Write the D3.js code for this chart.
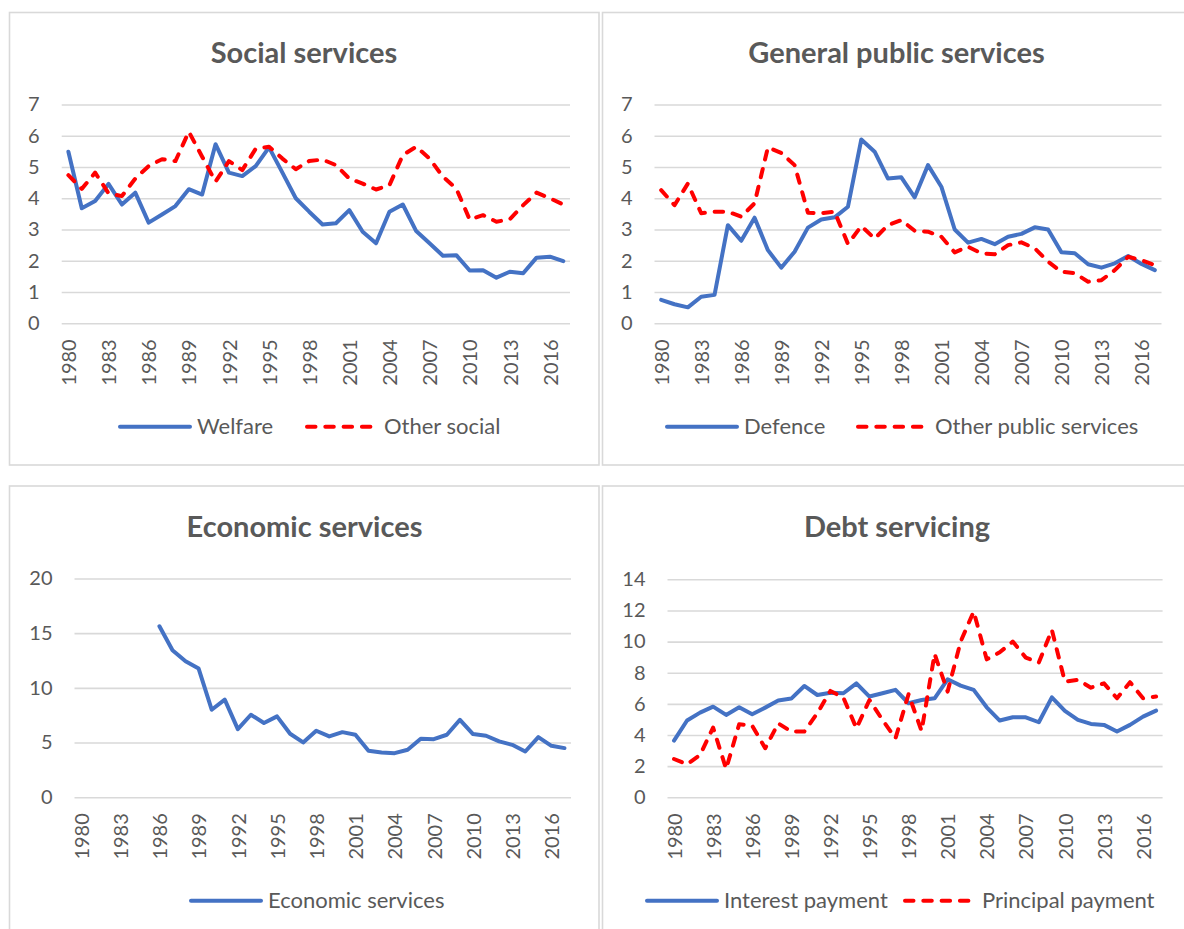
<!DOCTYPE html>
<html>
<head>
<meta charset="utf-8">
<script src="https://cdn.jsdelivr.net/npm/d3@7"></script>
<style>
  html, body { margin: 0; padding: 0; background: #ffffff; }
  svg { display: block; }
  text { font-family: Lato, "Open Sans", sans-serif; fill: #595959; }
</style>
</head>
<body>
<svg id="chart" width="1184" height="929"></svg>
<script>
// Fiscal years shown on every category axis
const years = [1980, 1981, 1982, 1983, 1984, 1985, 1986, 1987, 1988, 1989,
  1990, 1991, 1992, 1993, 1994, 1995, 1996, 1997, 1998, 1999,
  2000, 2001, 2002, 2003, 2004, 2005, 2006, 2007, 2008, 2009,
  2010, 2011, 2012, 2013, 2014, 2015, 2016, 2017];
const yearLabels = [1980, 1983, 1986, 1989, 1992, 1995, 1998, 2001, 2004, 2007, 2010, 2013, 2016];

// Social services
const welfare = [5.49, 3.68, 3.91, 4.46, 3.80, 4.18, 3.22, 3.48, 3.75, 4.29,
  4.12, 5.73, 4.82, 4.71, 5.03, 5.63, 4.82, 4.00, 3.57, 3.16,
  3.20, 3.62, 2.93, 2.56, 3.57, 3.80, 2.95, 2.56, 2.16, 2.18,
  1.69, 1.70, 1.46, 1.65, 1.60, 2.10, 2.13, 1.99];
const otherSocial = [4.74, 4.30, 4.82, 4.16, 4.07, 4.63, 5.03, 5.25, 5.19, 6.13,
  5.33, 4.53, 5.19, 4.90, 5.58, 5.65, 5.27, 4.93, 5.19, 5.24,
  5.06, 4.63, 4.47, 4.28, 4.42, 5.38, 5.65, 5.27, 4.69, 4.31,
  3.32, 3.46, 3.25, 3.33, 3.78, 4.18, 4.00, 3.80];

// General public services
const defence = [0.75, 0.61, 0.51, 0.85, 0.91, 3.14, 2.64, 3.38, 2.34, 1.78,
  2.29, 3.06, 3.32, 3.39, 3.73, 5.88, 5.49, 4.63, 4.67, 4.03,
  5.06, 4.37, 3.00, 2.58, 2.70, 2.53, 2.77, 2.86, 3.07, 3.00,
  2.27, 2.24, 1.89, 1.78, 1.92, 2.15, 1.90, 1.70];
const otherPublic = [4.26, 3.78, 4.47, 3.52, 3.57, 3.57, 3.41, 3.84, 5.63, 5.45,
  5.06, 3.54, 3.52, 3.57, 2.54, 3.11, 2.71, 3.14, 3.30, 2.96,
  2.93, 2.77, 2.27, 2.45, 2.24, 2.21, 2.50, 2.59, 2.40, 1.97,
  1.65, 1.60, 1.33, 1.38, 1.70, 2.13, 2.02, 1.86];

// Economic services (no figures before 1986)
const economic = [null, null, null, null, null, null, 15.63, 13.44, 12.43, 11.76,
  8.00, 8.92, 6.23, 7.54, 6.78, 7.39, 5.80, 5.01, 6.08, 5.56,
  5.95, 5.71, 4.24, 4.09, 4.03, 4.34, 5.34, 5.31, 5.71, 7.08,
  5.77, 5.62, 5.10, 4.79, 4.18, 5.50, 4.70, 4.49];

// Debt servicing
const interest = [3.64, 4.93, 5.44, 5.82, 5.29, 5.78, 5.33, 5.76, 6.21, 6.34,
  7.15, 6.57, 6.72, 6.68, 7.32, 6.47, 6.68, 6.90, 6.04, 6.25,
  6.36, 7.58, 7.17, 6.90, 5.78, 4.93, 5.14, 5.14, 4.82, 6.42,
  5.55, 4.97, 4.71, 4.65, 4.22, 4.65, 5.18, 5.57];
const principal = [2.46, 2.12, 2.72, 4.48, 1.82, 4.69, 4.60, 3.15, 4.75, 4.22,
  4.22, 5.40, 6.83, 6.40, 4.43, 6.25, 4.97, 3.79, 6.62, 4.26,
  9.21, 6.79, 10.00, 11.93, 8.86, 9.31, 10.00, 8.97, 8.65, 10.75,
  7.43, 7.54, 7.04, 7.32, 6.36, 7.39, 6.36, 6.47];

// Value-axis ticks per panel
const ticksSocial = [0, 1, 2, 3, 4, 5, 6, 7];
const ticksPublic = [0, 1, 2, 3, 4, 5, 6, 7];
const ticksEconomic = [0, 5, 10, 15, 20];
const ticksDebt = [0, 2, 4, 6, 8, 10, 12, 14];

const BLUE = "#4472C4";
const RED = "#FF0000";
const GRID = "#d9d9d9";

const panels = [
  {
    title: "Social services",
    box: { x: 9.5, y: 12.5, w: 589.5, h: 452.5 },
    plot: { left: 61.7, right: 570, top: 104.5, bottom: 323.3 },
    ticks: ticksSocial,
    titleX: 304, titleY: 62.7,
    legendY: 426.7, legendX: [120, 307],
    series: [
      { name: "Welfare", values: welfare, color: BLUE, dashed: false },
      { name: "Other social", values: otherSocial, color: RED, dashed: true }
    ]
  },
  {
    title: "General public services",
    box: { x: 602.5, y: 12.5, w: 600, h: 452.5 },
    plot: { left: 654.5, right: 1161.5, top: 104.5, bottom: 323.3 },
    ticks: ticksPublic,
    titleX: 896.5, titleY: 62.7,
    legendY: 426.7, legendX: [667, 858],
    series: [
      { name: "Defence", values: defence, color: BLUE, dashed: false },
      { name: "Other public services", values: otherPublic, color: RED, dashed: true }
    ]
  },
  {
    title: "Economic services",
    box: { x: 9.5, y: 486, w: 589.5, h: 500 },
    plot: { left: 74.5, right: 571, top: 578.5, bottom: 797.2 },
    ticks: ticksEconomic,
    titleX: 304.5, titleY: 536.7,
    legendY: 900.7, legendX: [191],
    series: [
      { name: "Economic services", values: economic, color: BLUE, dashed: false }
    ]
  },
  {
    title: "Debt servicing",
    box: { x: 602.5, y: 486, w: 600, h: 500 },
    plot: { left: 667.5, right: 1162.6, top: 579.3, bottom: 797.3 },
    ticks: ticksDebt,
    titleX: 897, titleY: 536.7,
    legendY: 900.7, legendX: [647, 905],
    series: [
      { name: "Interest payment", values: interest, color: BLUE, dashed: false },
      { name: "Principal payment", values: principal, color: RED, dashed: true }
    ]
  }
];

const svg = d3.select("#chart");
svg.append("rect").attr("width", 1184).attr("height", 929).attr("fill", "#ffffff");

const DASH = "8.5 9.8";

panels.forEach(p => {
  const g = svg.append("g");

  // chart frame
  g.append("rect")
    .attr("x", p.box.x).attr("y", p.box.y)
    .attr("width", p.box.w).attr("height", p.box.h)
    .attr("fill", "none").attr("stroke", GRID).attr("stroke-width", 1.6);

  // title
  g.append("text")
    .attr("x", p.titleX).attr("y", p.titleY)
    .attr("text-anchor", "middle")
    .style("font-size", "29px").style("font-weight", "bold")
    .text(p.title);

  const x = d3.scalePoint()
    .domain(years)
    .range([p.plot.left, p.plot.right])
    .padding(0.5);
  const y = d3.scaleLinear()
    .domain([d3.min(p.ticks), d3.max(p.ticks)])
    .range([p.plot.bottom, p.plot.top]);

  // value axis with horizontal gridlines
  const yAxis = g.append("g")
    .attr("transform", `translate(${p.plot.left},0)`)
    .call(d3.axisLeft(y)
      .tickValues(p.ticks)
      .tickFormat(d3.format("d"))
      .tickSize(-(p.plot.right - p.plot.left))
      .tickPadding(22));
  yAxis.select(".domain").remove();
  yAxis.selectAll(".tick line").attr("stroke", GRID).attr("stroke-width", 1.6);
  yAxis.selectAll(".tick text")
    .attr("fill", "#595959")
    .style("font-family", "Lato, sans-serif")
    .style("font-size", "20px");

  // category axis with rotated year labels
  const xAxis = g.append("g")
    .attr("transform", `translate(0,${p.plot.bottom})`)
    .call(d3.axisBottom(x).tickValues(yearLabels).tickSize(0).tickPadding(0));
  xAxis.select(".domain").remove();
  xAxis.selectAll(".tick text")
    .attr("fill", "#595959")
    .style("font-family", "Lato, sans-serif")
    .style("font-size", "20px")
    .attr("text-anchor", "end")
    .attr("transform", "rotate(-90)")
    .attr("x", -16)
    .attr("y", 0)
    .attr("dy", "0.36em");

  // data lines
  const line = d3.line()
    .defined(d => d[1] != null)
    .x(d => x(d[0]))
    .y(d => y(d[1]));

  p.series.forEach(s => {
    g.append("path")
      .datum(years.map((yr, i) => [yr, s.values[i]]))
      .attr("d", line)
      .attr("fill", "none")
      .attr("stroke", s.color)
      .attr("stroke-width", 4)
      .attr("stroke-linejoin", "round")
      .attr("stroke-linecap", "round")
      .attr("stroke-dasharray", s.dashed ? DASH : null);
  });

  // legend
  p.series.forEach((s, i) => {
    const lx = p.legendX[i];
    g.append("line")
      .attr("x1", lx).attr("x2", lx + 70)
      .attr("y1", p.legendY).attr("y2", p.legendY)
      .attr("stroke", s.color).attr("stroke-width", 4)
      .attr("stroke-linecap", "round")
      .attr("stroke-dasharray", s.dashed ? DASH : null);
    g.append("text")
      .attr("x", lx + 77).attr("y", p.legendY)
      .attr("dy", "0.35em")
      .style("font-size", "22px")
      .text(s.name);
  });
});
</script>
</body>
</html>
